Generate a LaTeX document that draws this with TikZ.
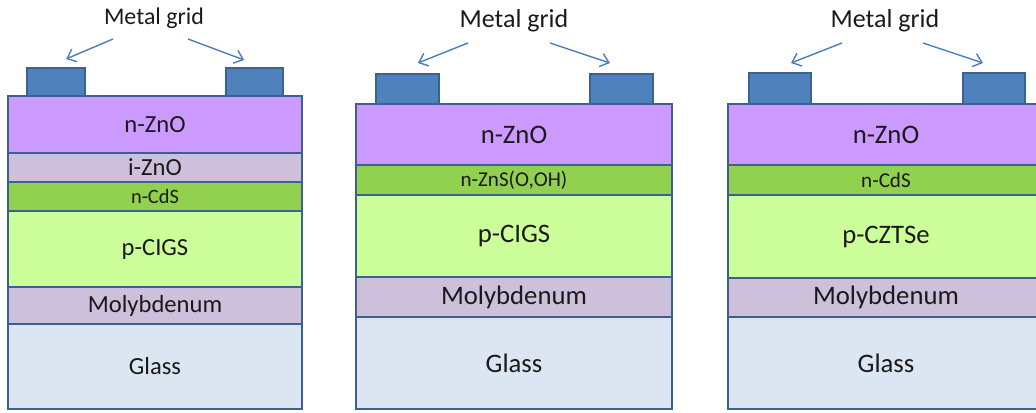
\documentclass[tikz,border=0pt]{standalone}
\usepackage{fontspec}
\setmainfont{Carlito}
\usepackage{tikz}
\usetikzlibrary{arrows.meta, positioning}
\definecolor{nzno}{HTML}{CC99FF}
\definecolor{lavender}{HTML}{CCC0DA}
\definecolor{buffer}{HTML}{92D050}
\definecolor{absorber}{HTML}{CCFF99}
\definecolor{glass}{HTML}{DCE6F2}
\definecolor{padblue}{HTML}{4F81BD}
\definecolor{edge}{HTML}{3B6190}
\definecolor{arrowblue}{HTML}{4A7EBB}
\definecolor{ink}{HTML}{1A1A1A}

\begin{document}
\begin{tikzpicture}[
    x=0.25mm, y=-0.25mm,
    layer/.style={
        rectangle,
        draw=edge,
        line width=0.55mm,
        outer sep=0pt,
        inner sep=0pt,
        text=ink
    },
    cellA/.style={layer, minimum width=73.5mm, font=\fontsize{17.5}{20}\selectfont},
    cellB/.style={layer, minimum width=79mm, font=\fontsize{19}{22}\selectfont},
    thinA/.style={font=\fontsize{14.5}{17}\selectfont},
    thinB/.style={font=\fontsize{15}{18}\selectfont},
    gridpad/.style={
        rectangle,
        draw=edge,
        fill=padblue,
        line width=0.55mm,
        outer sep=0pt,
        anchor=south west
    },
    gridtext/.style={anchor=base, text=ink, inner sep=0pt},
    arrow/.style={line width=0.35mm, color=arrowblue, -{Straight Barb[length=2mm, width=3.4mm]}}
]
\clip (0,0) rectangle (1036,413);

\node[cellA, fill=nzno, minimum height=14.25mm, anchor=north] (znoA) at (155,96) {n-ZnO};
\node[cellA, fill=lavender, minimum height=7.25mm, below=0pt of znoA] (iznoA) {i-ZnO};
\node[cellA, thinA, fill=buffer, minimum height=7.25mm, below=0pt of iznoA] (cdsA) {n-CdS};
\node[cellA, fill=absorber, minimum height=19mm, below=0pt of cdsA] (cigsA) {p-CIGS};
\node[cellA, fill=lavender, minimum height=9.25mm, below=0pt of cigsA] (moA) {Molybdenum};
\node[cellA, fill=glass, minimum height=21.25mm, below=0pt of moA] (glassA) {Glass};
\node[gridpad, minimum width=14.5mm, minimum height=7mm] (padAl) at (27,96) {};
\node[gridpad, minimum width=14.25mm, minimum height=7mm] (padAr) at (226,96) {};
\node[gridtext, font=\fontsize{17}{20}\selectfont] (mgA) at (154,25) {Metal grid};

\node[cellB, fill=nzno, minimum height=15.25mm, anchor=north] (znoB) at (514,104) {n-ZnO};
\node[cellB, thinB, fill=buffer, minimum height=7.5mm, below=0pt of znoB] (znsB) {n-ZnS(O,OH)};
\node[cellB, fill=absorber, minimum height=20.5mm, below=0pt of znsB] (cigsB) {p-CIGS};
\node[cellB, fill=lavender, minimum height=10mm, below=0pt of cigsB] (moB) {Molybdenum};
\node[cellB, fill=glass, minimum height=23mm, below=0pt of moB] (glassB) {Glass};
\node[gridpad, minimum width=15.75mm, minimum height=7.5mm] (padBl) at (376,104) {};
\node[gridpad, minimum width=15.75mm, minimum height=7.5mm] (padBr) at (590,104) {};
\node[gridtext, font=\fontsize{18.5}{22}\selectfont] (mgB) at (514,28) {Metal grid};

\node[cellB, fill=nzno, minimum height=15.25mm, anchor=north] (znoC) at (886,104) {n-ZnO};
\node[cellB, thinB, fill=buffer, minimum height=7.5mm, below=0pt of znoC] (cdsC) {n-CdS};
\node[cellB, fill=absorber, minimum height=20.75mm, below=0pt of cdsC] (cztsC) {p-CZTSe};
\node[cellB, fill=lavender, minimum height=9.75mm, below=0pt of cztsC] (moC) {Molybdenum};
\node[cellB, fill=glass, minimum height=23mm, below=0pt of moC] (glassC) {Glass};
\node[gridpad, minimum width=15.5mm, minimum height=7.75mm] (padCl) at (749,104) {};
\node[gridpad, minimum width=15.5mm, minimum height=7.75mm] (padCr) at (963,104) {};
\node[gridtext, font=\fontsize{18.5}{22}\selectfont] (mgC) at (885,28) {Metal grid};

\draw[arrow] ([xshift=-10.25mm, yshift=-3.5mm]mgA.base) -- ([xshift=2.5mm, yshift=2.25mm]padAl.north);
\draw[arrow] ([xshift=8.5mm, yshift=-3.5mm]mgA.base) -- ([xshift=-2.6mm, yshift=2mm]padAr.north);
\draw[arrow] ([xshift=-11.5mm, yshift=-3.75mm]mgB.base) -- ([xshift=2.6mm, yshift=2.75mm]padBl.north);
\draw[arrow] ([xshift=9mm, yshift=-3.75mm]mgB.base) -- ([xshift=-2.9mm, yshift=2.75mm]padBr.north);
\draw[arrow] ([xshift=-10.75mm, yshift=-3.75mm]mgC.base) -- ([xshift=2.75mm, yshift=2.5mm]padCl.north);
\draw[arrow] ([xshift=9.5mm, yshift=-3.75mm]mgC.base) -- ([xshift=-2.75mm, yshift=2.5mm]padCr.north);

\end{tikzpicture}
\end{document}
